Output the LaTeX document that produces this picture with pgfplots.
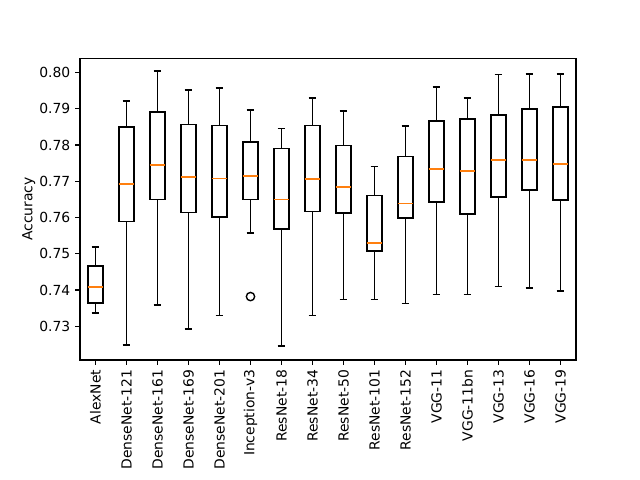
\documentclass[border=0pt]{standalone}
\usepackage{fontspec}
\setmainfont{DejaVu Sans}
\usepackage{pgfplots}
\pgfplotsset{compat=1.18}
\usepgfplotslibrary{statistics}
\definecolor{mplorange}{HTML}{FF7F0E}
\newcommand{\bx}[6]{\addplot[black, line width=1.15pt, solid,
  boxplot prepared={draw position=#1, lower whisker=#2, lower quartile=#3,
  median=#4, upper quartile=#5, upper whisker=#6}] coordinates {};}
\begin{document}
\begin{tikzpicture}[x=1pt,y=1pt]
\path[use as bounding box] (0,0) rectangle (460.8,345.6);
\begin{axis}[at={(57.6pt,86.4pt)}, anchor=south west,
  scale only axis, width=357.1pt, height=217.4pt,
  xmin=0.5, xmax=16.5, ymin=0.72071, ymax=0.80396,
  axis line style={line width=0.8pt},
  tick align=outside, tick pos=left, major tick length=3.5pt,
  every tick/.style={line width=0.8pt, black},
  xtick={1,...,16},
  xticklabels={AlexNet,DenseNet-121,DenseNet-161,DenseNet-169,DenseNet-201,Inception-v3,ResNet-18,ResNet-34,ResNet-50,ResNet-101,ResNet-152,VGG-11,VGG-11bn,VGG-13,VGG-16,VGG-19},
  xticklabel style={rotate=90, anchor=east, font=\fontsize{10}{12}\selectfont},
  ytick={0.73,0.74,0.75,0.76,0.77,0.78,0.79,0.80},
  yticklabel style={font=\fontsize{10}{12}\selectfont, /pgf/number format/fixed, /pgf/number format/precision=2, /pgf/number format/fixed zerofill},
  /pgf/number format/assume math mode=true,
  scaled y ticks=false,
  ylabel={Accuracy}, ylabel style={font=\fontsize{10}{12}\selectfont}, ylabel shift=-4pt,
  boxplot/draw direction=y,
  boxplot/box extend=0.5,
  boxplot/whisker extend=0.25,
  boxplot/every box/.style={draw=black, line width=1.15pt},
  boxplot/every whisker/.style={draw=black, line width=1.15pt},
  boxplot/every median/.style={draw=mplorange, line width=1.15pt},
  clip=false,
]
\bx{1}{0.7336}{0.7365}{0.7408}{0.7467}{0.7518}
\bx{2}{0.7248}{0.7589}{0.7692}{0.7849}{0.7921}
\bx{3}{0.7358}{0.7650}{0.7744}{0.7891}{0.8004}
\bx{4}{0.7292}{0.7614}{0.7711}{0.7856}{0.7951}
\bx{5}{0.7330}{0.7601}{0.7708}{0.7854}{0.7957}
\bx{6}{0.7557}{0.7650}{0.7714}{0.7808}{0.7896}
\bx{7}{0.7246}{0.7568}{0.7650}{0.7790}{0.7845}
\bx{8}{0.7330}{0.7617}{0.7706}{0.7854}{0.7929}
\bx{9}{0.7374}{0.7612}{0.7684}{0.7799}{0.7893}
\bx{10}{0.7374}{0.7507}{0.7529}{0.7661}{0.7741}
\bx{11}{0.7363}{0.7598}{0.7639}{0.7768}{0.7852}
\bx{12}{0.7388}{0.7642}{0.7734}{0.7866}{0.7960}
\bx{13}{0.7388}{0.7609}{0.7728}{0.7871}{0.7929}
\bx{14}{0.7410}{0.7656}{0.7759}{0.7882}{0.7994}
\bx{15}{0.7405}{0.7675}{0.7759}{0.7899}{0.7996}
\bx{16}{0.7397}{0.7648}{0.7747}{0.7904}{0.7996}
\addplot[only marks, mark=o, mark size=3pt, black, line width=1pt] coordinates {(6,0.7382)};
\end{axis}
\end{tikzpicture}
\end{document}
